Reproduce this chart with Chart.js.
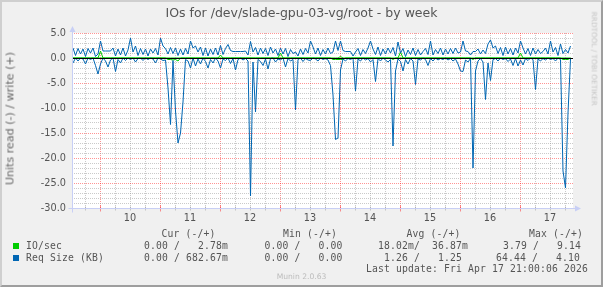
<!DOCTYPE html>
<html>
<head>
<meta charset="utf-8">
<title>IOs for /dev/slade-gpu-03-vg/root - by week</title>
<script src="https://cdn.jsdelivr.net/npm/chart.js@4.4.1/dist/chart.umd.min.js"></script>
<style>
html,body{margin:0;padding:0;background:#f0f0f0;}
#page{position:relative;width:603px;height:287px;overflow:hidden;background:#f0f0f0;}
#c{position:absolute;left:0;top:0;}
.t{position:absolute;white-space:pre;color:#555;line-height:1;font-family:"DejaVu Sans",sans-serif;}
.mono{font-family:"DejaVu Sans Mono",monospace;font-size:9.72px;letter-spacing:0.15px;}
.sq{position:absolute;width:6px;height:6px;}
#frame{position:absolute;left:0;top:0;width:603px;height:287px;box-sizing:border-box;border:2px solid;border-color:#cfcfcf #9e9e9e #9e9e9e #cfcfcf;pointer-events:none;}
</style>
</head>
<body>
<div id="page">
<canvas id="c" width="603" height="287"></canvas>
<div class="t" style="left:0;width:603px;text-align:center;top:7.3px;font-size:12.5px;">IOs for /dev/slade-gpu-03-vg/root - by week</div>
<div class="t" style="left:-90px;width:200px;text-align:center;top:113px;font-size:11.1px;color:#666;transform:rotate(-90deg);">Units read (-) / write (+)</div>
<div class="t" style="left:543.5px;width:100px;text-align:center;top:55.4px;font-size:7.3px;color:#c4c4c4;transform:rotate(90deg);">RRDTOOL / TOBI OETIKER</div>

<div class="t mono" style="left:161.5px;top:228.6px;">Cur (-/+)</div>
<div class="t mono" style="left:283px;top:228.6px;">Min (-/+)</div>
<div class="t mono" style="left:406.5px;top:228.6px;">Avg (-/+)</div>
<div class="t mono" style="left:529px;top:228.6px;">Max (-/+)</div>

<div class="sq" style="left:13px;top:243px;background:#00cc00;"></div>
<div class="t mono" style="left:26px;top:240.6px;">IO/sec</div>
<div class="t mono" style="left:144px;top:240.6px;">0.00 /   2.78m</div>
<div class="t mono" style="left:264.6px;top:240.6px;">0.00 /   0.00</div>
<div class="t mono" style="left:378px;top:240.6px;">18.02m/  36.87m</div>
<div class="t mono" style="left:503px;top:240.6px;">3.79 /   9.14</div>

<div class="sq" style="left:13px;top:255px;background:#0066b3;"></div>
<div class="t mono" style="left:26px;top:252.8px;">Req Size (KB)</div>
<div class="t mono" style="left:144px;top:252.8px;">0.00 / 682.67m</div>
<div class="t mono" style="left:264.6px;top:252.8px;">0.00 /   0.00</div>
<div class="t mono" style="left:384px;top:252.8px;">1.26 /   1.25</div>
<div class="t mono" style="left:496px;top:252.8px;">64.44 /   4.10</div>

<div class="t mono" style="right:15px;top:264.4px;">Last update: Fri Apr 17 21:00:06 2026</div>
<div class="t" style="left:0;width:603px;text-align:center;top:273px;font-size:7.6px;color:#bcbcbc;">Munin 2.0.63</div>
<div id="frame"></div>
</div>
<script>
// ---- data (hourly samples, x in days; day labels at tick positions) ----
const firstSampleDay = 9.05;
const sampleStepDays = 1 / 24;
const dayLabels = [10, 11, 12, 13, 14, 15, 16, 17];
const yTickLabels = ["5.0","0.0","-5.0","-10.0","-15.0","-20.0","-25.0","-30.0"];

// Req Size (KB) write (+)
const reqWrite = [
 2.0,0.5,1.9,0.8,1.8,0.3,1.9,1.0,2.0,0.3,
 0.8,3.4,1.4,1.4,1.4,1.4,2.0,0.4,1.8,0.6,
 2.0,0.4,1.6,4.0,1.2,2.4,0.5,1.9,0.7,1.8,
 0.4,1.8,1.0,1.9,0.6,4.0,2.4,1.9,0.8,2.1,
 0.9,2.0,0.5,1.8,0.6,1.9,0.8,3.4,2.0,2.4,
 1.2,2.2,0.5,2.0,0.4,1.8,0.7,2.0,0.6,2.5,
 0.7,1.9,2.7,1.5,1.3,1.3,1.3,1.3,1.3,1.4,
 0.6,3.3,1.2,2.1,0.6,2.0,0.9,1.9,0.5,2.2,
 1.0,1.8,0.5,2.0,0.8,1.9,0.3,1.7,0.9,1.2,
 0.4,1.8,0.7,1.9,1.0,3.4,2.2,0.8,2.0,0.5,
 1.7,0.8,2.0,0.9,1.2,3.4,1.5,3.4,1.5,1.3,
 1.3,1.3,0.4,1.2,1.9,0.5,1.7,0.9,2.0,3.4,
 1.8,0.7,2.2,0.5,1.8,0.8,2.0,1.0,2.1,0.4,
 3.2,1.0,1.9,0.3,1.6,0.7,2.0,0.5,1.7,0.6,
 1.3,1.9,0.7,3.4,0.6,1.7,0.9,2.0,0.6,1.8,
 0.8,1.9,0.9,2.0,1.0,1.2,3.4,1.4,1.3,0.6,
 1.3,1.3,1.8,0.8,1.6,0.9,2.8,3.6,2.0,2.4,
 0.9,2.1,0.5,2.2,0.8,1.9,0.6,2.0,1.0,3.4,
 2.0,0.8,1.9,0.5,2.0,0.8,1.7,0.9,1.3,2.0,
 0.8,3.4,1.2,2.1,0.5,2.8,0.9,1.7,1.0,2.4
];
// Req Size (KB) read (-)
const reqRead = [
 -1.0,0,-0.6,0,-0.2,-1.2,0,-0.3,0,-1.5,
 -3.2,-1.2,0,-0.6,-1.8,-0.4,0,-2.7,-0.3,-1.0,
 0,-0.5,0,-0.3,0,-0.8,-0.1,0,-0.5,0,
 -0.3,0,-0.2,-1.0,0,-0.2,-0.5,-0.4,-6.0,-13.3,
 -0.5,-10.6,-17.0,-15.0,-8.8,-0.3,-0.6,-2.0,0,-1.6,
 -0.2,-1.2,0,-0.7,-2.0,-0.3,-1.0,0,-0.6,-2.0,
 -0.2,-0.5,0,-1.1,-0.1,-2.4,-0.3,0,-0.4,-0.1,
 -0.6,-27.6,-0.8,-10.8,-0.3,-0.7,-1.5,-0.2,-2.2,-0.1,
 0,-0.8,-0.2,-0.4,0,-1.8,-0.1,-0.6,-0.3,-10.4,
 -0.3,0,-0.7,-0.1,-0.4,-0.5,0,-0.2,-0.6,0,
 -0.3,-0.1,-0.4,-1.5,-7.4,-16.3,-16.0,-2.4,-0.2,-0.6,
 -0.1,-0.3,0,-6.6,-0.2,-0.6,0,-0.4,-0.1,-0.8,
 -0.3,-4.7,-0.1,-0.6,0,-0.4,-0.8,-0.3,-17.6,-2.6,
 -0.2,-0.7,-2.6,-0.3,-1.2,-0.1,-0.6,-5.3,-0.2,-0.4,
 0,-0.3,-1.5,-0.1,-0.6,0,-0.4,-0.1,-0.3,0,
 -0.4,-0.1,-0.6,-0.2,-1.2,-2.6,-2.7,-0.4,-0.8,-0.1,
 -22.0,-2.6,-0.6,-0.1,-0.8,-8.3,-1.0,-4.5,-0.3,-0.1,
 -0.6,0,-0.3,-0.1,-0.7,-0.2,-1.5,-0.1,-1.6,-0.4,
 -1.4,-0.1,-0.5,0,-0.3,-6.3,-0.2,-0.6,-0.1,-0.4,
 0,-0.3,-0.1,-0.6,0,-0.3,-22.6,-26.0,-11.0,-0.2
];
// IO/sec write (+)
const ioWrite = [
 0,0,0,0,0,0,0,0,0,0,
 0,1.4,0,0,0,0,0,0,0,0,
 0,0,0,0,0,0,0,0,0,0,
 0,0,0,0,0,0,0,0,0,0,
 0,0,0,0,0,0,0,0,0,0,
 0,0,0,0,0,0,0,0,0,0.6,
 0,0,0,0,0,0,0,0,0,0,
 0,0,0,0,0,0,0,0,0,0,
 0,0,0,1.0,0,0,0,0,0,0,
 0,0,0,0,0,0,0,0,0,0,
 0,0,0,0,0,0,0,0.3,0,0,
 0,0,0,0,0,0,0,0,0,0,
 0,0,0,0,0,0,0,0,0,0,
 0,1.2,0,0,0,0,0,0,0,0,
 0,0,0,0,0,0,0,0,0,0,
 0,0,0,0,0,0,0,0,0,0,
 0,0,0,0,0,0,0,0,0,0,
 0,0,0,0,0,0,0,0,0,1.0,
 0,0,0,0,0,0,0,0,0,0,
 0,0,0,0,0,0,0,0,0,0
];
// IO/sec read (-)
const ioRead = [
 0,0,0,0,0,0,0,0,0,0,
 0,0,0,0,0,0,0,0,0,0,
 0,0,0,0,0,0,0,0,0,0,
 0,0,0,0,0,0,0,0,-0.3,-0.3,
 -0.4,-0.3,-0.6,0,0,0,0,0,0,0,
 0,0,0,0,0,0,0,0,0,0,
 0,0,0,0,0,0,0,0,0,0,
 0,0,0,0,0,0,0,0,0,0,
 0,0,0,0,0,0,0,0,0,0,
 0,0,0,0,0,0,0,0,0,0,
 0,0,0,0,-0.3,-0.3,-0.3,-0.3,-0.3,0,
 0,0,0,0,0,0,0,0,0,0,
 0,0,0,0,0,0,0,0,-0.3,0,
 0,0,0,0,0,0,0,0,0,0,
 0,0,0,0,0,0,0,0,0,0,
 0,0,0,0,0,0,0,0,0,0,
 -0.3,0,0,0,0,0,0,0,0,0,
 0,0,0,0,0,0,0,0,0,0,
 0,0,0,0,0,0,0,0,0,0,
 0,0,0,0,0,0,-0.3,-0.3,-0.3,0
];

const GREEN = '#00cc00';
const BLUE = '#0066b3';
const toPoints = arr => arr.map((v, i) => ({ x: firstSampleDay + i * sampleStepDays, y: v }));

const FONT = 'DejaVu Sans';
const TEXT = '#555';
const MINOR = 'rgba(150,150,150,0.5)';
const MAJOR = 'rgba(255,0,0,0.42)';
const AXIS = '#c8cff5';

const xMin = dayLabels[0] - 58 / 60, xMax = dayLabels[0] + 443 / 60;
const yMin = -30, yMax = 5;

const rrdPlugin = {
  id: 'rrd',
  beforeDraw(chart) {
    const { ctx, chartArea: a } = chart;
    ctx.save();
    ctx.fillStyle = '#ffffff';
    ctx.fillRect(a.left, a.top, a.right - a.left, a.bottom - a.top);
    ctx.restore();
  },
  afterDatasetsDraw(chart) {
    const { ctx, chartArea: a, scales: { x, y } } = chart;
    ctx.save();
    ctx.lineWidth = 1;
    // zero rule
    const y0 = Math.round(y.getPixelForValue(0)) + 0.5;
    ctx.strokeStyle = '#000';
    ctx.beginPath(); ctx.moveTo(a.left, y0); ctx.lineTo(a.right, y0); ctx.stroke();
    // axis tick marks on x axis
    const yb = Math.round(y.getPixelForValue(yMin)) + 0.5;
    x.ticks.forEach(t => {
      const px = Math.round(x.getPixelForValue(t.value)) + 0.5;
      const major = Math.abs((t.value % 1) - 0.5) < 1e-6;
      ctx.strokeStyle = major ? MAJOR : MINOR;
      ctx.beginPath();
      ctx.moveTo(px, yb - (major ? 3 : 2));
      ctx.lineTo(px, yb + (major ? 3 : 2));
      ctx.stroke();
    });
    // axes
    const xl = Math.round(x.getPixelForValue(xMin)) + 0.5;
    ctx.strokeStyle = AXIS;
    ctx.beginPath(); ctx.moveTo(xl - 4, yb); ctx.lineTo(a.right + 3, yb); ctx.stroke();
    ctx.beginPath(); ctx.moveTo(xl, yb + 4); ctx.lineTo(xl, a.top - 2); ctx.stroke();
    ctx.fillStyle = AXIS;
    ctx.beginPath();
    ctx.moveTo(a.right + 2, yb - 3); ctx.lineTo(a.right + 8, yb); ctx.lineTo(a.right + 2, yb + 3); ctx.closePath(); ctx.fill();
    ctx.beginPath();
    ctx.moveTo(xl - 3, a.top - 1); ctx.lineTo(xl, a.top - 7); ctx.lineTo(xl + 3, a.top - 1); ctx.closePath(); ctx.fill();
    ctx.restore();
  }
};

const xGrid = [];
for (let d = Math.ceil(xMin * 4) / 4; d <= xMax + 1e-9; d += 0.25) xGrid.push(Math.round(d * 100) / 100);
const yGrid = [];
for (let v = yMax; v >= yMin; v -= 1) yGrid.push(v);

new Chart(document.getElementById('c'), {
  type: 'line',
  data: {
    datasets: [
      { label: 'Req Size (KB) write', data: toPoints(reqWrite), borderColor: BLUE },
      { label: 'Req Size (KB) read', data: toPoints(reqRead), borderColor: BLUE },
      { label: 'IO/sec write', data: toPoints(ioWrite), borderColor: GREEN },
      { label: 'IO/sec read', data: toPoints(ioRead), borderColor: GREEN }
    ]
  },
  options: {
    responsive: false,
    animation: false,
    devicePixelRatio: 1,
    layout: { padding: { left: 0, right: 30, top: 33, bottom: 59 } },
    elements: { point: { radius: 0 }, line: { borderWidth: 1, tension: 0, fill: false } },
    plugins: { legend: { display: false }, tooltip: { enabled: false }, title: { display: false } },
    scales: {
      x: {
        type: 'linear', min: xMin, max: xMax,
        afterBuildTicks: s => { s.ticks = xGrid.map(v => ({ value: v })); },
        afterFit: s => { s.height = 20; },
        ticks: {
          autoSkip: false, maxRotation: 0, padding: 5, color: TEXT,
          font: { family: FONT, size: 9.72 },
          callback: v => { const i = dayLabels.indexOf(v); return i >= 0 ? String(dayLabels[i]) : ''; }
        },
        grid: {
          drawTicks: false, lineWidth: 1,
          color: c => (Math.abs((c.tick.value % 1) - 0.5) < 1e-6 ? MAJOR : MINOR)
        },
        border: { display: false, dash: [1, 1] }
      },
      y: {
        type: 'linear', min: yMin, max: yMax,
        afterBuildTicks: s => { s.ticks = yGrid.map(v => ({ value: v })); },
        afterFit: s => { s.width = 72; },
        ticks: {
          autoSkip: false, padding: 6, color: TEXT,
          font: { family: FONT, size: 9.72 },
          callback: v => { const i = (yMax - v) / 5; return Number.isInteger(i) ? yTickLabels[i] : ''; }
        },
        grid: {
          drawTicks: false, lineWidth: 1,
          color: c => (c.tick.value % 5 === 0 ? MAJOR : MINOR)
        },
        border: { display: false, dash: [1, 1] }
      }
    }
  },
  plugins: [rrdPlugin]
});
</script>
</body>
</html>
